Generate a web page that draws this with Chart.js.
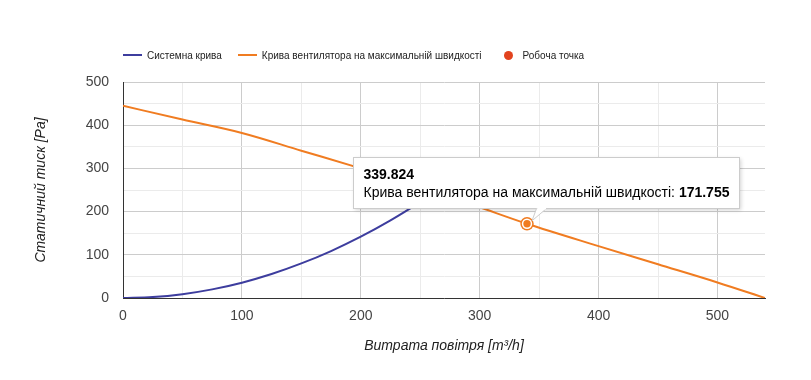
<!DOCTYPE html>
<html><head><meta charset="utf-8">
<script src="https://cdn.jsdelivr.net/npm/chart.js@4.4.1/dist/chart.umd.min.js"></script>
<style>
html,body{margin:0;padding:0;background:#fff;}
#wrap{position:relative;width:811px;height:380px;}
#legend{position:absolute;left:123px;top:48px;height:14px;display:flex;align-items:center;font:10px "Liberation Sans",Arial,sans-serif;color:#222;white-space:nowrap;}
#legend .it{display:flex;align-items:center;}
#legend .ln{display:inline-block;width:19px;height:2px;margin-right:5px;}
#legend .dt{display:inline-block;width:9px;height:9px;border-radius:50%;margin-right:10px;}
</style>
</head><body>
<div id="wrap"><canvas id="c" width="811" height="380"></canvas><div id="legend"></div></div>
<script>
// ---- data ----
const seriesNames = ['Системна крива', 'Крива вентилятора на максимальній швидкості', 'Робоча точка'];
const systemX = [0, 25, 50, 75, 100, 125, 150, 175, 200, 225, 250, 263];
const systemY = [0, 2.2, 8.9, 20, 35.5, 55.5, 80, 108.7, 142, 179.7, 221.9, 245.5];
const fanX = [0, 50, 100, 150, 200, 250, 300, 339.824, 400, 450, 500, 540];
const fanY = [445, 413, 382, 341, 300, 258, 210, 171.755, 120, 78, 36, 0];
const workX = [263];
const workY = [245.5];
const hoverX = 339.824;
const hoverY = 171.755;
const xTicks = [0, 50, 100, 150, 200, 250, 300, 350, 400, 450, 500];
const yTicks = [0, 50, 100, 150, 200, 250, 300, 350, 400, 450, 500];
const xTitle = 'Витрата повітря [m³/h]';
const yTitle = 'Статичний тиск [Pa]';

const colors = ['#3d3d9e', '#f07c21', '#e2431e'];
const FONT = '"Liberation Sans", Arial, sans-serif';

const toPts = (xs, ys) => xs.map((x, i) => ({x, y: ys[i]}));

const hoverPlugin = {
  id: 'hoverTip',
  afterDraw(chart) {
    const ctx = chart.ctx;
    const px = chart.scales.x.getPixelForValue(hoverX);
    const py = chart.scales.y.getPixelForValue(hoverY);
    // marker
    ctx.save();
    ctx.beginPath(); ctx.arc(px, py, 6.7, 0, Math.PI * 2); ctx.fillStyle = colors[1]; ctx.fill();
    ctx.beginPath(); ctx.arc(px, py, 5.2, 0, Math.PI * 2); ctx.fillStyle = '#fff'; ctx.fill();
    ctx.beginPath(); ctx.arc(px, py, 3.7, 0, Math.PI * 2); ctx.fillStyle = colors[1]; ctx.fill();
    // tooltip
    const title = hoverX.toFixed(3);
    const label = seriesNames[1] + ': ';
    const val = hoverY.toFixed(3);
    ctx.font = '14px ' + FONT;
    const wLabel = ctx.measureText(label).width;
    ctx.font = 'bold 14px ' + FONT;
    const wVal = ctx.measureText(val).width;
    const w = Math.round(wLabel + wVal + 20);
    const left = Math.round(px - 174) + 0.5, top = Math.round(py - 67) + 0.5;
    const h = 51, bottom = top + h;
    ctx.shadowColor = 'rgba(0,0,0,0.18)';
    ctx.shadowBlur = 4; ctx.shadowOffsetX = 1; ctx.shadowOffsetY = 1;
    ctx.fillStyle = '#fff';
    ctx.fillRect(left, top, w, h);
    ctx.shadowColor = 'transparent';
    ctx.strokeStyle = '#cccccc'; ctx.lineWidth = 1;
    ctx.strokeRect(left, top, w, h);
    // tail
    const b1 = left + 183, b2 = left + 193, tx = px + 5, ty = py - 3;
    ctx.beginPath(); ctx.moveTo(b1, bottom); ctx.lineTo(tx, ty); ctx.lineTo(b2, bottom); ctx.closePath();
    ctx.fillStyle = '#fff'; ctx.fill();
    ctx.beginPath(); ctx.moveTo(b1, bottom); ctx.lineTo(tx, ty); ctx.lineTo(b2, bottom);
    ctx.strokeStyle = '#cccccc'; ctx.stroke();
    ctx.fillStyle = '#fff'; ctx.fillRect(b1 + 1, bottom - 1, b2 - b1 - 1.5, 2);
    // text
    ctx.fillStyle = '#000';
    ctx.textBaseline = 'alphabetic'; ctx.textAlign = 'left';
    ctx.font = 'bold 14px ' + FONT;
    ctx.fillText(title, left + 10, top + 21);
    ctx.font = '14px ' + FONT;
    ctx.fillText(label, left + 10, top + 39);
    ctx.font = 'bold 14px ' + FONT;
    ctx.fillText(val, left + 10 + wLabel, top + 39);
    ctx.restore();
  }
};

const chart = new Chart(document.getElementById('c'), {
  type: 'line',
  data: {
    datasets: [
      {label: seriesNames[0], data: toPts(systemX, systemY), borderColor: colors[0], borderWidth: 2, pointRadius: 0, cubicInterpolationMode: 'monotone', fill: false, order: 2},
      {label: seriesNames[1], data: toPts(fanX, fanY), borderColor: colors[1], borderWidth: 2, pointRadius: 0, cubicInterpolationMode: 'monotone', fill: false, order: 1},
      {label: seriesNames[2], data: toPts(workX, workY), type: 'scatter', showLine: false, backgroundColor: colors[2], borderColor: colors[2], pointRadius: 4.5, order: 3}
    ]
  },
  options: {
    responsive: false,
    animation: false,
    events: [],
    layout: {padding: {left: 0, right: 46, top: 82, bottom: 0}},
    plugins: {legend: {display: false}, tooltip: {enabled: false}},
    scales: {
      x: {
        type: 'linear', min: 0, max: 540,
        afterBuildTicks: s => { s.ticks = xTicks.map(v => ({value: v})); },
        afterFit: s => { s.height = 82; },
        ticks: {callback: v => (v % 100 === 0 ? String(v) : ''), font: {family: FONT, size: 14}, color: '#444', padding: 10, maxRotation: 0, autoSkip: false},
        grid: {color: c => (c.tick && c.tick.value % 100 === 0 ? '#cccccc' : '#ebebeb'), drawTicks: false},
        border: {color: '#333333'},
        title: {display: true, text: xTitle, font: {family: FONT, size: 14, style: 'italic'}, color: '#222', padding: {top: 0, bottom: 25}}
      },
      y: {
        type: 'linear', min: 0, max: 500,
        afterBuildTicks: s => { s.ticks = yTicks.map(v => ({value: v})); },
        afterFit: s => { s.width = 123; },
        ticks: {callback: v => (v % 100 === 0 ? String(v) : ''), font: {family: FONT, size: 14}, color: '#444', padding: 14, autoSkip: false},
        grid: {color: c => (c.tick && c.tick.value % 100 === 0 ? '#cccccc' : '#ebebeb'), drawTicks: false},
        border: {color: '#333333'},
        title: {display: true, text: yTitle, font: {family: FONT, size: 14, style: 'italic'}, color: '#222', padding: {top: 33, bottom: 0}}
      }
    }
  },
  plugins: [hoverPlugin]
});

// legend built from datasets
const lg = document.getElementById('legend');
chart.data.datasets.forEach((ds, i) => {
  const it = document.createElement('span');
  it.className = 'it';
  if (i > 0) it.style.marginLeft = (i === 1 ? '16px' : '22px');
  const mk = document.createElement('span');
  if (ds.type === 'scatter') { mk.className = 'dt'; mk.style.background = ds.backgroundColor; }
  else { mk.className = 'ln'; mk.style.background = ds.borderColor; }
  const tx = document.createElement('span');
  tx.textContent = ds.label;
  it.appendChild(mk); it.appendChild(tx);
  lg.appendChild(it);
});
</script>
</body></html>
